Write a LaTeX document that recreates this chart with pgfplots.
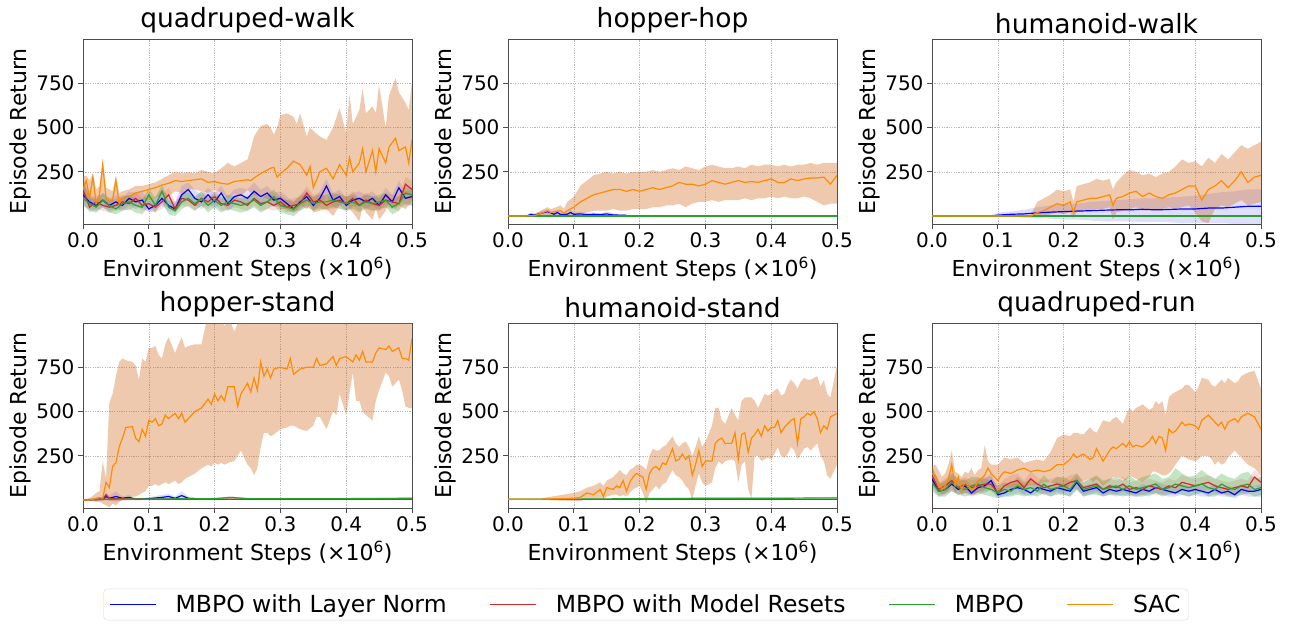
\documentclass[border=0pt]{standalone}
\usepackage{pgfplots}
\pgfplotsset{compat=1.18}
\usepackage{pgfplotstable}
\usepgfplotslibrary{fillbetween}
\usepackage{fontspec}
\setmainfont{DejaVu Sans}
\definecolor{cblue}{rgb}{0,0,1}
\definecolor{cred}{RGB}{214,39,40}
\definecolor{cgreen}{RGB}{44,160,44}
\definecolor{corange}{RGB}{255,140,0}
\definecolor{cband}{RGB}{210,105,30}

% ---------------- quadruped-walk ----------------
\pgfplotstableread{
x m lo hi
0.000 150 90 220
0.005 200 100 230
0.010 100 60 200
0.015 220 80 240
0.020 70 50 150
0.025 120 60 170
0.030 290 110 320
0.035 100 50 160
0.040 80 50 150
0.045 90 40 140
0.050 200 80 230
0.055 70 40 130
0.060 100 60 140
0.070 110 70 150
0.080 130 80 170
0.090 140 90 170
0.100 150 90 180
0.110 160 100 190
0.120 175 120 210
0.130 185 110 230
0.140 200 140 250
0.150 195 130 240
0.160 200 150 250
0.170 205 150 240
0.180 210 140 260
0.190 190 130 250
0.200 195 150 240
0.210 185 130 270
0.220 180 100 300
0.230 195 130 280
0.240 200 110 300
0.250 205 150 320
0.255 200 130 380
0.260 215 120 450
0.270 240 110 510
0.280 260 100 520
0.285 270 80 500
0.290 275 90 460
0.295 220 60 500
0.300 240 40 570
0.310 270 40 580
0.320 310 20 560
0.325 300 30 520
0.330 290 60 580
0.340 230 40 450
0.345 280 60 500
0.350 160 20 480
0.360 250 30 450
0.370 270 40 430
0.380 210 0 500
0.390 290 60 610
0.400 230 80 470
0.405 330 40 690
0.410 250 20 520
0.420 300 -30 600
0.425 380 60 720
0.430 250 20 580
0.440 370 -20 620
0.445 250 40 580
0.450 380 -20 740
0.460 300 30 500
0.465 390 80 680
0.475 440 40 780
0.480 370 60 700
0.490 390 40 640
0.495 300 60 600
0.500 430 90 760
}\qwsac
\pgfplotstableread{
x m lo hi
0.00 120 60 210
0.01 80 40 120
0.02 60 30 100
0.03 90 50 130
0.04 60 30 100
0.05 80 40 120
0.06 60 30 100
0.07 100 60 140
0.08 80 40 130
0.09 90 50 140
0.10 40 20 80
0.11 60 30 110
0.12 100 60 150
0.13 60 30 110
0.14 40 20 80
0.15 120 70 170
0.16 150 90 190
0.17 100 60 150
0.18 80 40 120
0.19 120 70 160
0.20 80 40 130
0.21 130 80 170
0.22 70 30 110
0.23 110 60 150
0.24 120 70 160
0.25 100 60 150
0.26 140 90 190
0.27 110 60 150
0.28 130 80 170
0.29 90 50 130
0.30 100 60 140
0.31 70 30 110
0.32 40 20 80
0.33 80 40 120
0.34 110 60 150
0.35 60 30 100
0.36 100 60 140
0.37 170 110 210
0.38 90 50 130
0.39 110 60 150
0.40 60 30 100
0.41 90 50 130
0.42 100 60 140
0.43 80 40 120
0.44 100 60 140
0.45 60 30 100
0.46 120 70 160
0.47 80 40 120
0.48 160 100 200
0.49 100 60 140
0.50 110 60 150
}\qwblue
\pgfplotstableread{
x m lo hi
0.00 150 80 220
0.01 50 20 90
0.02 80 40 120
0.03 60 30 100
0.04 50 20 90
0.05 60 30 100
0.06 80 40 120
0.07 70 30 110
0.08 100 60 140
0.09 60 30 100
0.10 70 30 110
0.11 50 20 90
0.12 80 40 120
0.13 120 70 160
0.14 40 20 80
0.15 100 60 140
0.16 90 50 130
0.17 60 30 100
0.18 100 60 140
0.19 80 40 120
0.20 110 70 150
0.21 70 30 110
0.22 60 30 100
0.23 90 50 130
0.24 80 40 120
0.25 60 30 100
0.26 100 60 140
0.27 70 30 110
0.28 80 40 120
0.29 60 30 100
0.30 80 40 120
0.31 50 20 90
0.32 60 30 100
0.33 70 30 110
0.34 130 80 170
0.35 80 40 120
0.36 90 50 130
0.37 60 30 100
0.38 80 40 120
0.39 90 50 130
0.40 70 30 110
0.41 100 60 140
0.42 60 30 100
0.43 90 50 130
0.44 70 30 110
0.45 60 30 100
0.46 90 50 130
0.47 80 40 120
0.48 70 30 110
0.49 180 120 220
0.50 150 90 200
}\qwred
\pgfplotstableread{
x m lo hi
0.00 100 60 200
0.01 70 30 110
0.02 50 20 90
0.03 90 50 130
0.04 60 20 100
0.05 40 10 80
0.06 70 30 110
0.07 80 40 120
0.08 60 20 100
0.09 50 10 90
0.10 120 60 160
0.11 60 20 100
0.12 140 80 180
0.13 50 10 90
0.14 30 0 70
0.15 80 40 120
0.16 100 60 140
0.17 70 30 110
0.18 100 60 140
0.19 60 20 100
0.20 90 50 130
0.21 60 20 100
0.22 80 40 120
0.23 70 30 110
0.24 60 20 100
0.25 70 30 110
0.26 90 50 130
0.27 60 20 100
0.28 80 40 120
0.29 110 60 150
0.30 60 20 100
0.31 50 10 90
0.32 40 0 80
0.33 70 30 110
0.34 90 50 130
0.35 70 30 110
0.36 80 40 120
0.37 80 40 120
0.38 90 50 130
0.39 80 40 120
0.40 70 30 110
0.41 80 40 120
0.42 60 20 100
0.43 80 40 120
0.44 70 30 110
0.45 80 40 120
0.46 90 50 130
0.47 50 10 90
0.48 70 30 110
0.49 130 70 170
0.50 120 60 160
}\qwgreen

% ---------------- hopper-hop ----------------
\pgfplotstableread{
x m lo hi
0.00 0 -3 3
0.02 0 -3 3
0.04 2 -5 10
0.05 15 -5 30
0.06 30 0 50
0.065 20 -5 40
0.07 25 0 45
0.08 30 0 60
0.085 15 -5 40
0.09 30 0 80
0.10 50 0 110
0.11 80 10 170
0.12 100 20 200
0.13 120 30 230
0.14 130 30 240
0.15 140 30 250
0.16 150 40 240
0.17 150 30 250
0.18 140 30 240
0.19 150 40 250
0.20 140 40 250
0.21 150 40 250
0.22 160 50 260
0.23 150 50 250
0.24 160 60 260
0.25 170 60 270
0.26 190 70 260
0.27 180 50 280
0.28 180 70 270
0.29 170 80 260
0.30 180 80 280
0.31 200 90 290
0.32 190 80 280
0.33 180 90 270
0.34 190 90 270
0.35 200 90 280
0.36 190 100 270
0.37 195 90 290
0.38 190 100 280
0.39 200 100 290
0.40 210 110 290
0.41 190 100 280
0.42 190 110 290
0.43 210 100 280
0.44 200 100 290
0.45 210 110 290
0.46 215 100 300
0.47 215 80 290
0.48 220 60 300
0.49 180 70 300
0.50 230 70 300
}\hhsac
\pgfplotstableread{
x m lo hi
0.00 0 -3 3
0.03 2 -3 8
0.035 10 0 20
0.04 5 -3 12
0.05 15 0 30
0.06 25 5 40
0.07 10 0 20
0.075 20 5 35
0.08 8 0 18
0.09 10 0 20
0.095 20 5 35
0.10 10 0 20
0.11 12 0 25
0.12 8 0 18
0.13 10 0 20
0.14 8 0 15
0.15 12 0 25
0.16 6 0 15
0.17 5 0 12
0.18 5 0 10
}\hhblue
\pgfplotstableread{
x m lo hi
0.00 0 -3 3
0.50 0 -3 3
}\flatzero

% ---------------- humanoid-walk ----------------
\pgfplotstableread{
x m lo hi
0.00 0 -2 2
0.09 0 -3 5
0.10 5 -5 20
0.12 10 -5 25
0.14 12 -10 35
0.16 18 -15 50
0.18 22 -15 60
0.20 25 -20 70
0.22 28 -20 70
0.24 30 -25 80
0.26 33 -30 85
0.28 35 -30 90
0.30 35 -30 95
0.32 38 -35 100
0.34 35 -35 100
0.36 37 -35 105
0.38 40 -40 110
0.40 40 -40 115
0.42 45 -40 125
0.44 45 -40 135
0.46 50 -45 140
0.48 55 -45 150
0.50 55 -45 150
}\hwblue
\pgfplotstableread{
x m lo hi
0.00 0 -2 2
0.15 0 -2 5
0.16 20 0 80
0.17 30 0 100
0.18 50 10 120
0.19 70 20 150
0.20 60 10 140
0.21 80 20 150
0.215 20 -10 80
0.22 80 20 170
0.23 90 30 180
0.24 100 30 190
0.25 100 40 210
0.26 110 40 200
0.27 120 50 210
0.275 60 -20 150
0.28 100 20 190
0.29 110 30 230
0.30 130 40 260
0.31 140 50 250
0.32 110 30 230
0.33 130 40 240
0.34 110 40 220
0.35 100 40 240
0.36 120 50 250
0.37 130 40 280
0.38 150 50 320
0.39 170 60 300
0.40 170 20 310
0.41 90 -30 280
0.42 150 -40 330
0.43 170 40 300
0.44 200 60 350
0.45 160 50 320
0.46 200 70 360
0.47 250 90 400
0.48 190 60 380
0.49 220 70 400
0.50 230 80 420
}\hwsac

% ---------------- hopper-stand ----------------
\pgfplotstableread{
x m lo hi
0.000 0 -5 5
0.010 0 -5 10
0.020 10 -10 40
0.025 15 -10 50
0.030 10 -20 220
0.035 100 -30 120
0.040 70 -40 550
0.045 190 -20 600
0.050 210 -30 700
0.055 300 -10 780
0.060 350 0 800
0.065 410 10 790
0.075 415 20 780
0.080 350 20 760
0.085 330 30 680
0.090 400 40 800
0.095 360 50 780
0.100 450 80 860
0.105 440 80 860
0.110 460 90 870
0.115 420 80 820
0.120 430 90 800
0.125 480 100 880
0.130 460 90 920
0.140 490 110 830
0.145 460 90 880
0.150 490 100 920
0.155 440 120 860
0.160 460 130 870
0.170 500 150 880
0.180 520 180 880
0.190 570 200 1050
0.195 540 190 1050
0.200 600 210 1050
0.205 560 200 1050
0.210 590 210 1050
0.215 560 200 980
0.220 640 210 1050
0.230 640 220 950
0.235 530 250 1000
0.240 600 280 1050
0.250 660 200 1050
0.255 610 180 1050
0.260 690 140 1050
0.265 620 180 1050
0.270 780 300 1050
0.275 700 380 1050
0.280 740 380 1050
0.285 690 360 1050
0.290 740 370 1050
0.300 750 400 1050
0.310 740 410 1050
0.315 800 420 1050
0.320 710 420 1050
0.330 740 400 1050
0.340 750 390 1050
0.350 750 420 1050
0.355 800 470 1050
0.360 760 470 1050
0.370 770 400 1050
0.380 810 500 1050
0.385 760 480 1050
0.390 800 600 1050
0.400 810 480 1050
0.410 780 720 1050
0.415 820 560 1050
0.420 790 560 1050
0.425 840 500 1050
0.430 780 480 1050
0.440 780 450 1050
0.445 830 560 1050
0.450 860 620 1050
0.460 850 720 1050
0.465 870 700 1050
0.470 840 640 1050
0.480 860 680 1050
0.485 800 620 1050
0.490 800 530 1050
0.495 790 520 1050
0.500 910 520 1050
}\hssac
\pgfplotstableread{
x m lo hi
0.00 0 -5 5
0.03 5 -5 15
0.035 20 0 40
0.04 10 -5 25
0.05 20 -10 50
0.06 10 0 20
0.07 15 0 30
0.08 5 0 10
0.10 8 0 15
0.12 15 0 30
0.13 20 5 35
0.14 10 0 20
0.15 25 5 50
0.16 10 0 20
0.17 8 0 15
}\hsblue
\pgfplotstableread{
x m lo hi
0.00 0 -3 3
0.03 5 -5 15
0.035 30 5 40
0.04 8 -5 20
0.10 5 0 10
0.50 5 0 10
}\hsred
\pgfplotstableread{
x m lo hi
0.00 2 0 5
0.05 5 0 10
0.10 6 2 10
0.20 8 4 12
0.225 15 8 20
0.25 8 4 12
0.30 8 4 12
0.40 8 4 12
0.50 10 6 14
}\hsgreen

% ---------------- humanoid-stand ----------------
\pgfplotstableread{
x m lo hi
0.00 5 0 10
0.05 5 0 10
0.10 10 -5 40
0.11 15 -5 50
0.12 40 5 70
0.13 30 0 80
0.14 60 10 100
0.145 20 0 80
0.15 70 20 110
0.16 60 30 130
0.165 80 30 150
0.17 70 20 170
0.175 110 30 150
0.18 50 20 140
0.185 100 40 170
0.19 130 60 180
0.195 150 70 200
0.20 140 80 200
0.205 130 40 190
0.21 60 -20 170
0.215 150 40 250
0.22 180 60 290
0.225 190 80 280
0.23 170 60 280
0.235 210 90 300
0.24 200 100 310
0.25 290 170 360
0.255 220 140 320
0.26 230 130 300
0.265 260 110 320
0.27 230 80 330
0.275 250 60 300
0.28 140 0 250
0.285 200 80 300
0.29 280 150 360
0.295 190 100 300
0.30 220 80 330
0.31 220 100 420
0.315 320 180 520
0.32 340 220 520
0.325 350 200 450
0.33 320 220 430
0.34 320 230 520
0.345 380 220 480
0.35 230 100 450
0.355 370 200 560
0.36 380 220 580
0.365 270 60 580
0.37 350 10 580
0.375 370 250 560
0.38 400 250 520
0.385 360 220 560
0.39 420 230 600
0.395 390 240 590
0.40 410 230 600
0.405 410 260 620
0.41 450 300 630
0.415 380 250 590
0.42 410 240 600
0.425 430 260 650
0.43 450 300 680
0.435 460 280 660
0.44 320 230 630
0.445 460 260 670
0.45 470 290 690
0.455 490 300 680
0.46 480 280 680
0.465 500 300 690
0.47 460 320 700
0.475 380 250 640
0.48 420 220 680
0.485 400 140 600
0.49 470 120 580
0.50 490 200 760
}\hstsac
\pgfplotstableread{
x m lo hi
0.00 5 2 8
0.10 5 2 8
0.20 8 4 12
0.30 10 6 14
0.40 10 6 14
0.50 12 8 16
}\hstgreen
\pgfplotstableread{
x m lo hi
0.00 5 2 8
0.50 5 2 8
}\flatfive

% ---------------- quadruped-run ----------------
\pgfplotstableread{
x m lo hi
0.000 150 90 190
0.005 140 80 200
0.010 100 60 170
0.015 60 30 130
0.020 80 40 150
0.025 120 50 200
0.030 200 90 280
0.035 80 40 160
0.040 130 60 150
0.045 60 30 130
0.050 100 40 160
0.055 80 40 150
0.060 60 30 180
0.065 70 30 140
0.070 110 50 170
0.075 120 50 180
0.080 140 60 310
0.085 180 80 220
0.090 150 70 200
0.100 110 50 200
0.105 140 60 220
0.110 160 70 240
0.120 150 70 230
0.130 170 70 240
0.140 180 80 210
0.150 160 80 220
0.160 170 90 230
0.170 160 100 220
0.180 170 100 270
0.190 200 90 350
0.200 200 60 370
0.210 230 80 360
0.215 260 100 380
0.220 240 100 380
0.230 260 110 370
0.240 230 120 410
0.245 240 100 390
0.250 290 120 380
0.260 220 80 450
0.270 280 110 440
0.275 300 130 460
0.280 290 130 470
0.290 320 120 430
0.295 300 110 480
0.300 330 140 520
0.305 300 130 500
0.310 310 120 520
0.320 300 100 540
0.330 330 130 510
0.335 360 160 520
0.340 320 160 560
0.345 360 150 540
0.350 350 140 560
0.355 280 140 480
0.360 400 150 580
0.365 380 170 600
0.370 390 200 610
0.380 440 250 630
0.385 420 240 650
0.390 430 230 650
0.400 420 220 610
0.405 400 230 640
0.410 450 250 690
0.420 480 250 680
0.425 460 230 650
0.430 440 200 640
0.435 420 220 660
0.440 440 200 680
0.445 400 210 660
0.450 440 240 690
0.460 460 280 660
0.465 440 260 670
0.470 470 240 700
0.480 490 200 720
0.490 470 180 730
0.500 400 140 630
}\qrsac
\pgfplotstableread{
x m lo hi
0.00 120 70 180
0.01 50 20 90
0.02 60 30 100
0.03 90 50 140
0.04 60 30 100
0.05 80 40 120
0.06 40 20 80
0.07 70 30 110
0.08 80 40 120
0.09 110 60 150
0.10 30 10 60
0.11 40 20 70
0.12 60 30 90
0.13 70 40 100
0.14 60 30 90
0.15 40 20 70
0.16 70 40 100
0.17 60 30 90
0.18 50 20 80
0.19 70 40 100
0.20 60 30 90
0.21 50 20 80
0.22 100 60 130
0.23 50 20 80
0.24 60 30 90
0.25 70 40 100
0.26 40 20 70
0.27 60 30 90
0.28 50 20 80
0.29 60 30 90
0.30 50 20 80
0.31 40 20 70
0.32 60 30 90
0.33 50 20 80
0.34 70 40 100
0.35 60 30 90
0.36 50 20 80
0.37 40 20 70
0.38 60 30 90
0.39 50 20 80
0.40 60 30 90
0.41 50 20 80
0.42 40 20 70
0.43 60 30 90
0.44 40 20 70
0.45 50 20 80
0.46 30 10 60
0.47 60 30 90
0.48 50 20 80
0.49 50 20 80
0.50 60 30 90
}\qrblue
\pgfplotstableread{
x m lo hi
0.00 140 80 200
0.01 60 30 100
0.02 80 40 120
0.03 110 60 160
0.04 70 30 110
0.05 90 50 130
0.06 70 30 110
0.07 80 40 120
0.08 90 50 130
0.09 90 50 130
0.10 40 20 80
0.11 80 40 120
0.12 100 60 140
0.13 110 60 150
0.14 70 30 110
0.15 120 70 160
0.16 90 50 130
0.17 70 30 110
0.18 80 40 120
0.19 90 50 130
0.20 80 40 120
0.21 100 60 140
0.22 110 60 150
0.23 70 30 110
0.24 80 40 120
0.25 90 50 130
0.26 60 30 100
0.27 80 40 120
0.28 70 30 110
0.29 90 50 130
0.30 60 30 100
0.31 70 30 110
0.32 60 30 100
0.33 80 40 120
0.34 70 30 110
0.35 60 30 100
0.36 80 40 120
0.37 70 30 110
0.38 100 60 140
0.39 90 50 130
0.40 80 40 120
0.41 90 50 130
0.42 100 60 140
0.43 80 40 120
0.44 70 30 110
0.45 60 30 100
0.46 70 30 110
0.47 80 40 120
0.48 70 30 110
0.49 130 80 170
0.50 100 60 140
}\qrred
\pgfplotstableread{
x m lo hi
0.00 100 50 190
0.01 50 20 90
0.02 60 20 110
0.03 100 50 150
0.04 70 30 120
0.05 60 20 110
0.06 80 30 130
0.07 90 40 130
0.08 70 30 120
0.09 60 20 110
0.10 40 10 80
0.11 60 20 100
0.12 50 20 90
0.13 80 30 130
0.14 60 20 100
0.15 70 30 120
0.16 50 20 90
0.17 90 40 140
0.18 60 20 100
0.19 70 30 130
0.20 80 30 130
0.21 60 20 110
0.22 110 60 150
0.23 60 20 100
0.24 70 30 120
0.25 80 30 140
0.26 60 20 110
0.27 70 30 120
0.28 80 30 130
0.29 60 20 110
0.30 80 30 140
0.31 60 20 110
0.32 70 20 130
0.33 80 30 140
0.34 90 40 150
0.35 60 20 120
0.36 70 30 130
0.37 90 40 180
0.38 80 30 150
0.39 70 20 130
0.40 80 30 140
0.41 90 40 170
0.42 70 20 140
0.43 60 20 120
0.44 90 40 150
0.45 70 20 130
0.46 60 20 120
0.47 80 30 150
0.48 90 40 160
0.49 60 20 120
0.50 70 20 130
}\qrgreen

\tikzset{
  bandB/.style={fill=cblue, fill opacity=0.13},
  bandR/.style={fill=cred, fill opacity=0.15},
  bandG/.style={fill=cgreen, fill opacity=0.28},
  bandS/.style={fill=cband, fill opacity=0.36},
}
\newcommand{\series}[4]{%
  \addplot[name path=U#4, draw=none, forget plot] table[x=x,y=hi]{#1};
  \addplot[name path=L#4, draw=none, forget plot] table[x=x,y=lo]{#1};
  \addplot[#3, draw=none, forget plot] fill between[of=U#4 and L#4];
  \addplot[#2, line width=1.2pt, forget plot] table[x=x,y=m]{#1};
}

\pgfplotsset{
  panel/.style={
    scale only axis, width=329pt, height=185pt,
    xmin=0, xmax=0.5, ymin=-45, ymax=1000,
    xtick={0,0.1,0.2,0.3,0.4,0.5}, ytick={250,500,750},
    xticklabel={\pgfmathprintnumber[fixed,fixed zerofill,precision=1,assume math mode=true]{\tick}},
    /pgf/number format/assume math mode=true,
    grid=major, grid style={black!28, dash pattern=on 1.2pt off 1.2pt, line width=0.5pt},
    axis line style={black!70, line width=0.9pt},
    tick style={black!70, line width=0.9pt},
    tick align=outside, major tick length=5pt, tick pos=left,
    xlabel={Environment Steps (×10\textsuperscript{6})},
    ylabel={Episode Return},
    ticklabel style={font=\fontsize{20}{24}\selectfont},
    label style={font=\fontsize{22}{26}\selectfont},
    xlabel style={yshift=-3pt},
    ylabel style={yshift=-2pt},
    title style={font=\fontsize{26.5}{30}\selectfont, yshift=-4pt},
    anchor=south west,
  }
}

\begin{document}
\begin{tikzpicture}
\path (0pt,0pt) rectangle (1291pt,-625pt);

% quadruped-walk
\begin{axis}[panel, at={(83pt,-224pt)}, title={quadruped-walk}]
\series{\qwblue}{cblue}{bandB}{qwa}
\series{\qwred}{cred}{bandR}{qwb}
\series{\qwgreen}{cgreen}{bandG}{qwc}
\series{\qwsac}{corange}{bandS}{qwd}
\end{axis}

% hopper-hop
\begin{axis}[panel, at={(508pt,-224pt)}, title={hopper-hop}]
\series{\hhblue}{cblue}{bandB}{hha}
\series{\flatzero}{cred}{bandR}{hhb}
\series{\flatzero}{cgreen}{bandG}{hhc}
\series{\hhsac}{corange}{bandS}{hhd}
\end{axis}

% humanoid-walk
\begin{axis}[panel, at={(932pt,-224pt)}, title={humanoid-walk}]
\series{\hwblue}{cblue}{bandB}{hwa}
\series{\flatzero}{cred}{bandR}{hwb}
\series{\flatzero}{cgreen}{bandG}{hwc}
\series{\hwsac}{corange}{bandS}{hwd}
\end{axis}

% hopper-stand
\begin{axis}[panel, at={(83pt,-508pt)}, title={hopper-stand}]
\series{\hsblue}{cblue}{bandB}{hsa}
\series{\hsred}{cred}{bandR}{hsb}
\series{\hsgreen}{cgreen}{bandG}{hsc}
\series{\hssac}{corange}{bandS}{hsd}
\end{axis}

% humanoid-stand
\begin{axis}[panel, at={(508pt,-508pt)}, title={humanoid-stand}]
\series{\flatfive}{cblue}{bandB}{hta}
\series{\flatfive}{cred}{bandR}{htb}
\series{\hstgreen}{cgreen}{bandG}{htc}
\series{\hstsac}{corange}{bandS}{htd}
\end{axis}

% quadruped-run
\begin{axis}[panel, at={(932pt,-508pt)}, title={quadruped-run}]
\series{\qrblue}{cblue}{bandB}{qra}
\series{\qrred}{cred}{bandR}{qrb}
\series{\qrgreen}{cgreen}{bandG}{qrc}
\series{\qrsac}{corange}{bandS}{qrd}
\end{axis}

% legend
\begin{axis}[hide axis, scale only axis, width=10pt, height=10pt,
  xmin=0, xmax=1, ymin=0, ymax=1,
  at={(646pt,-604.5pt)}, anchor=center,
  legend columns=4,
  legend image code/.code={\draw[#1] (0pt,0pt) -- (46pt,0pt);},
  legend style={at={(0.5,0.5)}, anchor=center, draw=black!15, rounded corners=4pt,
    font=\fontsize{23.5}{27}\selectfont, inner xsep=6pt, inner ysep=4pt,
    /tikz/every odd column/.append style={column sep=17pt},
    /tikz/every even column/.append style={column sep=41pt}},
]
\addlegendimage{cblue, line width=1.2pt}
\addlegendentry{MBPO with Layer Norm}
\addlegendimage{cred, line width=1.2pt}
\addlegendentry{MBPO with Model Resets}
\addlegendimage{cgreen, line width=1.2pt}
\addlegendentry{MBPO}
\addlegendimage{corange, line width=1.2pt}
\addlegendentry{SAC\hspace{27pt}}
\end{axis}
\end{tikzpicture}
\end{document}
